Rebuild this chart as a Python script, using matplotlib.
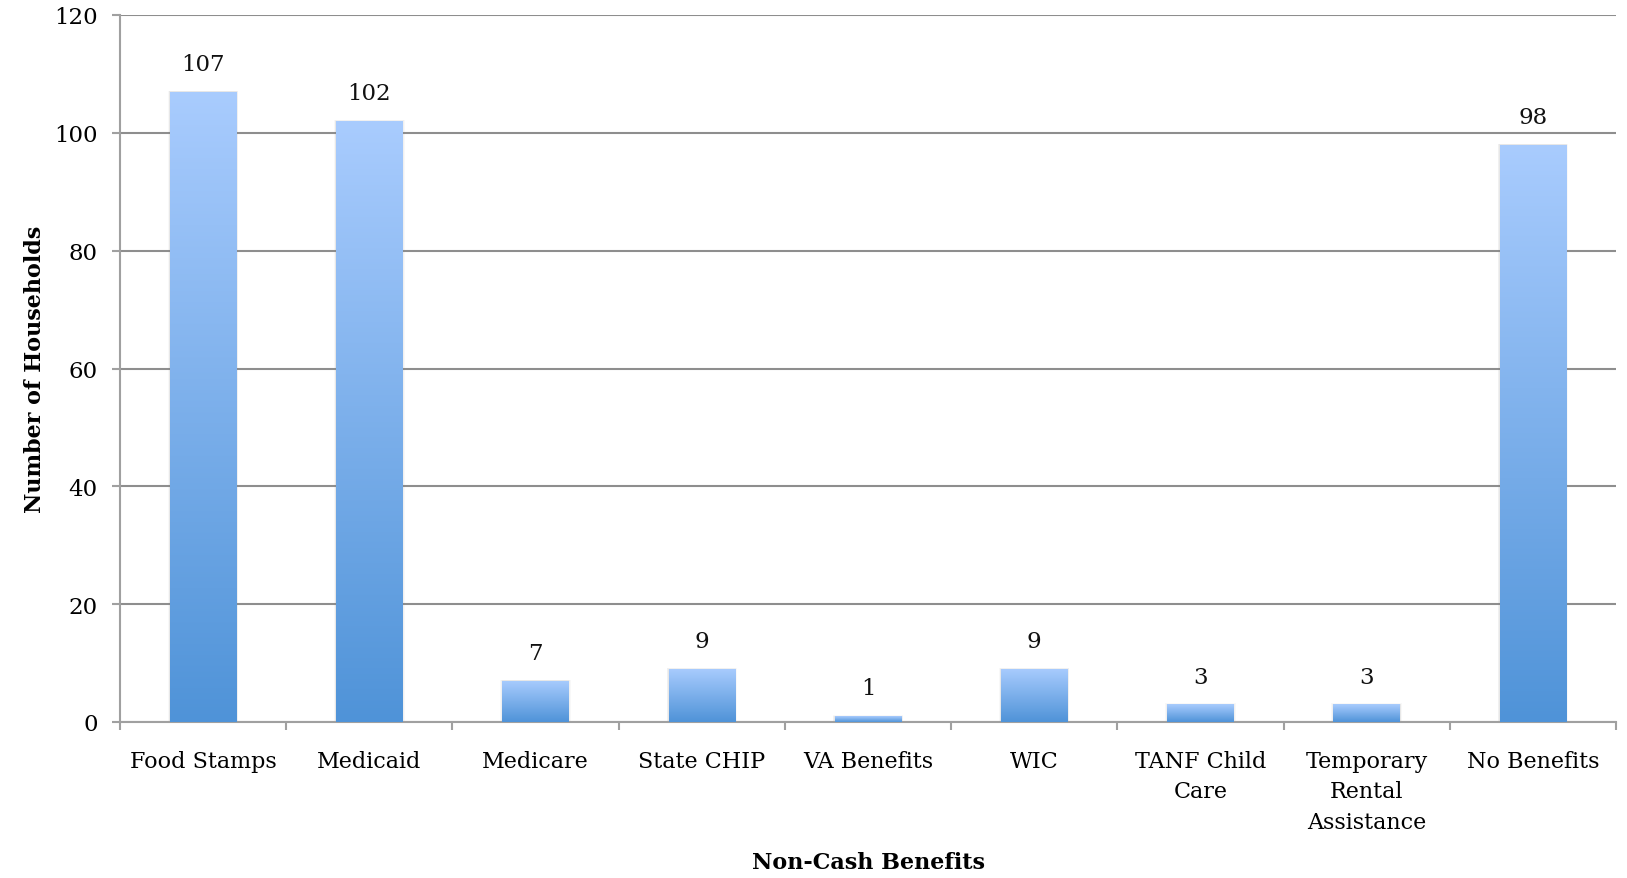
import numpy as np
import matplotlib
matplotlib.use("Agg")
import matplotlib.pyplot as plt
from matplotlib.colors import LinearSegmentedColormap
from matplotlib.patches import Rectangle

categories = ["Food Stamps", "Medicaid", "Medicare", "State CHIP", "VA Benefits",
              "WIC", "TANF Child\nCare", "Temporary\nRental\nAssistance", "No Benefits"]
households = [107, 102, 7, 9, 1, 9, 3, 3, 98]
y_ticks = [0, 20, 40, 60, 80, 100, 120]

plt.rcParams["font.family"] = ["DejaVu Serif"]

W, H, DPI = 1627, 879, 100
fig = plt.figure(figsize=(W / DPI, H / DPI), dpi=DPI)
ax = fig.add_axes([120 / W, 1 - 723 / H, (1616 - 120) / W, (723 - 16) / H])

x = np.arange(len(categories))
bar_w = 0.40
grad = LinearSegmentedColormap.from_list("bluegrad", ["#4f93d8", "#a9ccfe"])
grad_img = np.linspace(0, 1, 256).reshape(-1, 1)

bars = ax.bar(x, households, width=bar_w, color="none", edgecolor="none", zorder=3)
for rect, v in zip(bars, households):
    x0 = rect.get_x()
    w = rect.get_width()
    h = rect.get_height()
    # soft shadow around each bar
    for k, a in [(0.012, 0.05), (0.008, 0.06), (0.004, 0.08)]:
        ax.add_patch(Rectangle((x0 - k, 0), w + 2 * k, h + k * 12,
                               facecolor="#808080", edgecolor="none",
                               alpha=a, zorder=2.5))
    im = ax.imshow(grad_img, cmap=grad, origin="lower", aspect="auto",
                   extent=(x0, x0 + w, 0, h), zorder=3, interpolation="bilinear")
    im.set_clip_path(rect)
    ax.annotate(str(v), (rect.get_x() + w / 2, h), xytext=(0, 12),
                textcoords="offset points", ha="center", va="bottom",
                fontsize=16.5, color="#111111")

ax.set_xlim(-0.5, len(categories) - 0.5)
ax.set_ylim(0, 120)
ax.set_yticks(y_ticks)
ax.set_xticks(x)
ax.set_xticklabels(categories, fontsize=16, linespacing=1.5)
ax.set_xticks(np.arange(len(categories) + 1) - 0.5, minor=True)
ax.tick_params(axis="x", which="major", length=0, pad=20)
ax.tick_params(axis="x", which="minor", length=6, width=1.5, color="#a0a0a0", direction="out")
ax.tick_params(axis="y", length=6, width=1.5, color="#a0a0a0", pad=10, labelsize=16.5)

ax.yaxis.grid(True, color="#8e8e8e", linewidth=1.5, zorder=1)
ax.set_axisbelow(True)
for s in ["top", "right"]:
    ax.spines[s].set_visible(False)
for s in ["left", "bottom"]:
    ax.spines[s].set_color("#a0a0a0")
    ax.spines[s].set_linewidth(1.5)

ax.set_ylabel("Number of Households", fontsize=16, fontweight="bold", labelpad=6)
fig.text(868 / W, 1 - 863 / H, "Non-Cash Benefits", fontsize=16, fontweight="bold",
         ha="center", va="center")

fig.savefig("out.png", dpi=DPI)
